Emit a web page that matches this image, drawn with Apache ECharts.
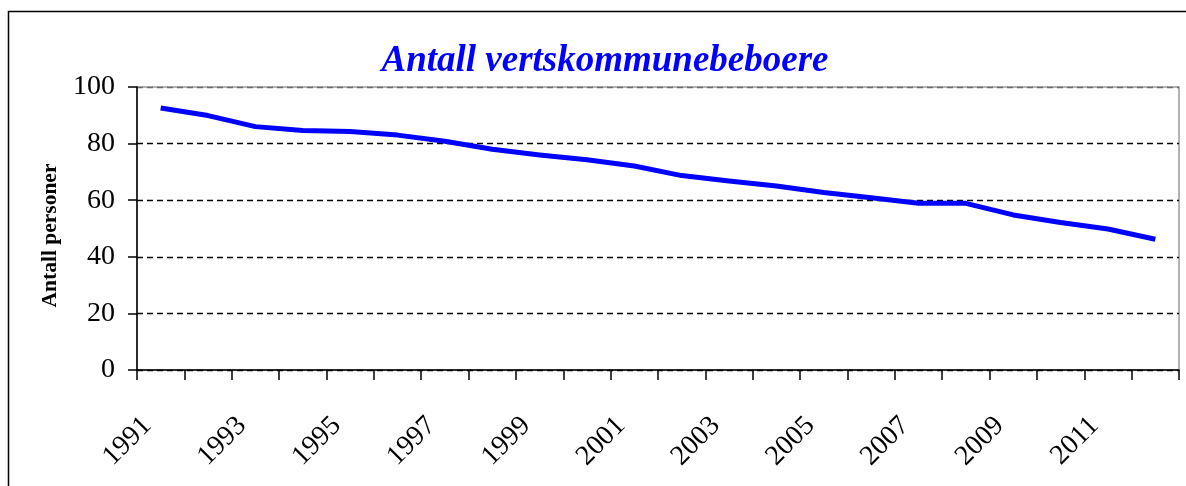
<!DOCTYPE html>
<html>
<head>
<meta charset="utf-8">
<title>Antall vertskommunebeboere</title>
<script src="https://cdn.jsdelivr.net/npm/echarts@6/dist/echarts.min.js"></script>
<style>
  html, body { margin: 0; padding: 0; background: #fff; }
  #chart { width: 1186px; height: 486px; }
</style>
</head>
<body>
<div id="chart"></div>
<script>
// Years on the category axis
var years = ['1991','1992','1993','1994','1995','1996','1997','1998','1999','2000','2001',
             '2002','2003','2004','2005','2006','2007','2008','2009','2010','2011','2012'];
// Number of residents per year
var residents = [92.6, 89.9, 86.0, 84.6, 84.3, 83.0, 80.8, 78.0, 76.0, 74.3, 72.1,
                 68.7, 66.8, 65.0, 62.7, 60.9, 58.9, 58.9, 54.8, 52.1, 49.8, 46.2];
// Value axis ticks
var yTicks = [0, 20, 40, 60, 80, 100];

var serif = '"Liberation Serif", "DejaVu Serif", serif';

var chart = echarts.init(document.getElementById('chart'), null, { renderer: 'canvas' });

chart.setOption({
  backgroundColor: '#ffffff',
  animation: false,
  title: {
    text: 'Antall vertskommunebeboere',
    left: 605,
    top: 43,
    padding: 0,
    textAlign: 'center',
    textStyle: {
      color: '#0000ff',
      fontFamily: serif,
      fontSize: 37,
      fontWeight: 'bold',
      fontStyle: 'italic'
    }
  },
  graphic: [
    {
      type: 'rect',
      shape: { x: 8.5, y: 11.5, width: 1300, height: 600 },
      style: { fill: 'none', stroke: '#000000', lineWidth: 1.5 },
      silent: true,
      z: -1
    },
    {
      type: 'text',
      x: 50,
      y: 235.5,
      rotation: Math.PI / 2,
      style: {
        text: 'Antall personer',
        fill: '#000000',
        font: 'bold 21.5px ' + serif,
        textAlign: 'center',
        textVerticalAlign: 'middle'
      },
      silent: true
    }
  ],
  grid: {
    left: 137,
    right: 7,
    top: 87,
    bottom: 116,
    show: true,
    borderColor: '#9a9a9a',
    borderWidth: 1.5,
    backgroundColor: 'transparent'
  },
  xAxis: {
    type: 'category',
    data: years,
    boundaryGap: true,
    axisLine: { lineStyle: { color: '#000000', width: 1.5 } },
    axisTick: { show: true, length: 10, interval: 0, lineStyle: { color: '#000000', width: 1.5 } },
    axisLabel: {
      interval: 1,
      rotate: 45,
      margin: 38,
      padding: [0, 19, 0, 0],
      color: '#000000',
      fontFamily: serif,
      fontSize: 28
    },
    splitLine: { show: false }
  },
  yAxis: {
    type: 'value',
    min: yTicks[0],
    max: yTicks[yTicks.length - 1],
    interval: yTicks[1] - yTicks[0],
    axisLine: { show: true, lineStyle: { color: '#000000', width: 1.5 } },
    axisTick: { show: true, length: 9, lineStyle: { color: '#000000', width: 1.5 } },
    axisLabel: {
      margin: 22,
      color: '#000000',
      fontFamily: serif,
      fontSize: 28
    },
    splitLine: {
      show: true,
      lineStyle: {
        color: ['#000000', '#000000', '#000000', '#000000', '#000000', '#6a6a6a'],
        type: [6, 4],
        width: 1.4
      }
    }
  },
  series: [
    {
      type: 'line',
      data: residents,
      showSymbol: false,
      symbol: 'none',
      smooth: false,
      lineStyle: { color: '#0000ff', width: 5, cap: 'butt', join: 'round' },
      itemStyle: { color: '#0000ff' },
      z: 3
    }
  ]
});
</script>
</body>
</html>
